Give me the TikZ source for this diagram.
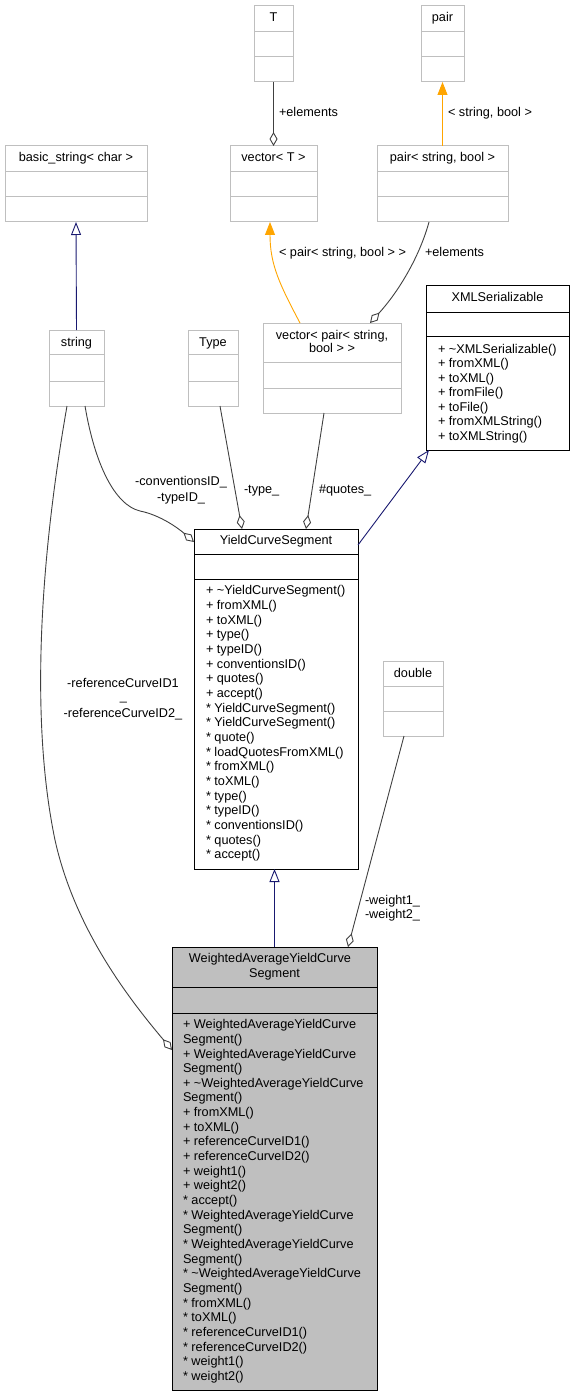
\documentclass[tikz,border=0pt]{standalone}
\usepackage{fontspec}
\setmainfont{Liberation Sans}
\usetikzlibrary{arrows.meta}
\definecolor{boxgray}{HTML}{BFBFBF}
\definecolor{edgegray}{HTML}{404040}
\definecolor{navyedge}{HTML}{191970}
\definecolor{orangeedge}{HTML}{FFA500}
\definecolor{fillgray}{HTML}{BFBFBF}
\begin{document}
\begin{tikzpicture}[x=1pt,y=-1pt,
  every node/.style={font=\fontsize{12.7}{14.67}\selectfont, inner sep=0pt, outer sep=0pt},
  lightbox/.style={draw=boxgray, line width=1pt, fill=white, anchor=north west},
  darkbox/.style={draw=black, line width=1pt, fill=white, anchor=north west},
  graybox/.style={draw=black, line width=1pt, fill=fillgray, anchor=north west},
  lightdiv/.style={draw=boxgray, line width=1pt},
  darkdiv/.style={draw=black, line width=1pt},
  agg/.style={draw=edgegray, line width=0.9pt, -{Diamond[length=14pt, width=8pt, fill=white]}},
  inh/.style={draw=navyedge, line width=0.9pt, -{Triangle[length=13pt, width=10pt, fill=white]}},
  tmpl/.style={draw=orangeedge, line width=0.9pt, -{Triangle[length=13pt, width=10pt]}},
  lbl/.style={anchor=base west},
  ttl/.style={anchor=base}
]
\useasboundingbox (0,0) rectangle (571,1396);

% ---- class boxes ----
\node[lightbox, minimum width=39pt, minimum height=76pt] (T) at (254,6) {};
\draw[lightdiv] (254,32) -- (293,32) (254,57) -- (293,57);
\node[ttl] (Tt) at (273.5,21.4) {T};

\node[lightbox, minimum width=43pt, minimum height=76pt] (pair) at (421,6) {};
\draw[lightdiv] (421,32) -- (464,32) (421,57) -- (464,57);
\node[ttl] (pairt) at (442.5,21.4) {pair};

\node[lightbox, minimum width=142pt, minimum height=76pt] (bstr) at (5,146) {};
\draw[lightdiv] (5,172) -- (147,172) (5,197) -- (147,197);
\node[ttl] (bstrt) at (76,161.5) {basic\_string< char >};

\node[lightbox, minimum width=87pt, minimum height=76pt] (vecT) at (230,146) {};
\draw[lightdiv] (230,172) -- (317,172) (230,197) -- (317,197);
\node[ttl] (vecTt) at (273.5,161.5) {vector< T >};

\node[lightbox, minimum width=131pt, minimum height=76pt] (pairSB) at (377,146) {};
\draw[lightdiv] (377,172) -- (508,172) (377,197) -- (508,197);
\node[ttl] (pairSBt) at (442.5,161.5) {pair< string, bool >};

\node[darkbox, minimum width=143pt, minimum height=164pt] (XML) at (426,286) {};
\draw[darkdiv] (426,312) -- (569,312) (426,336) -- (569,336);
\node[ttl] (XMLt) at (497.5,301.4) {XMLSerializable};
\foreach \m [count=\i from 0] in {+ \textasciitilde XMLSerializable(),+ fromXML(),+ toXML(),+ fromFile(),+ toFile(),+ fromXMLString(),+ toXMLString()}
  \node[lbl] (xmlm\i) at (438,{353.4+\i*14.5}) {\m};

\node[lightbox, minimum width=55pt, minimum height=76pt] (string) at (49,330) {};
\draw[lightdiv] (49,354) -- (104,354) (49,381) -- (104,381);
\node[ttl] (stringt) at (76.5,346.4) {string};

\node[lightbox, minimum width=50pt, minimum height=76pt] (Type) at (188,330) {};
\draw[lightdiv] (188,354) -- (238,354) (188,381) -- (238,381);
\node[ttl] (Typet) at (213,346.4) {Type};

\node[lightbox, minimum width=138pt, minimum height=90pt] (vecP) at (263,323) {};
\draw[lightdiv] (263,362) -- (401,362) (263,388) -- (401,388);
\node[ttl] (vecPt1) at (332,339.4) {vector< pair< string,};
\node[ttl] (vecPt2) at (332,352.7) {bool > >};

\node[darkbox, minimum width=164pt, minimum height=340pt] (YCS) at (194,529) {};
\draw[darkdiv] (194,554) -- (358,554) (194,579) -- (358,579);
\node[ttl] (YCSt) at (276,544.4) {YieldCurveSegment};
\foreach \m [count=\i from 0] in {+ \textasciitilde YieldCurveSegment(),+ fromXML(),+ toXML(),+ type(),+ typeID(),+ conventionsID(),+ quotes(),+ accept(),* YieldCurveSegment(),* YieldCurveSegment(),* quote(),* loadQuotesFromXML(),* fromXML(),* toXML(),* type(),* typeID(),* conventionsID(),* quotes(),* accept()}
  \node[lbl] (ycsm\i) at (206,{594.7+\i*14.67}) {\m};

\node[lightbox, minimum width=60pt, minimum height=75pt] (double) at (383,661) {};
\draw[lightdiv] (383,686) -- (443,686) (383,711) -- (443,711);
\node[ttl] (doublet) at (413,677.4) {double};

\node[graybox, minimum width=205pt, minimum height=443pt] (WAYCS) at (172,947) {};
\draw[darkdiv] (172,987) -- (377,987) (172,1013) -- (377,1013);
\node[ttl] (WAYCSt1) at (270,962.4) {WeightedAverageYieldCurve};
\node[ttl] (WAYCSt2) at (274.5,977.7) {Segment};
\foreach \m [count=\i from 0] in {+ WeightedAverageYieldCurve,Segment(),+ WeightedAverageYieldCurve,Segment(),+ \textasciitilde WeightedAverageYieldCurve,Segment(),+ fromXML(),+ toXML(),+ referenceCurveID1(),+ referenceCurveID2(),+ weight1(),+ weight2(),* accept(),* WeightedAverageYieldCurve,Segment(),* WeightedAverageYieldCurve,Segment(),* \textasciitilde WeightedAverageYieldCurve,Segment(),* fromXML(),* toXML(),* referenceCurveID1(),* referenceCurveID2(),* weight1(),* weight2()}
  \node[lbl] (waycsm\i) at (183,{1028.7+\i*14.65}) {\m};

% ---- connectors ----
\draw[agg] (T.south) -- (vecT.north);
\node[lbl] (e1) at (279,117) {+elements};

\draw[tmpl] (pairSB.north) -- (pair.south);
\node[lbl] (e2) at (448,117) {< string, bool >};

\draw[inh] (string.north) -- (bstr.south);

\draw[tmpl] ([xshift=37pt]vecP.north west) .. controls (280,285) and (270,265) .. ([xshift=40pt]vecT.south west);
\node[lbl] (e4) at (279,257) {< pair< string, bool > >};

\draw[agg] ([xshift=52pt]pairSB.south west) .. controls (420,255) and (400,290) .. ([xshift=107pt]vecP.north west);
\node[lbl] (e5) at (425,257) {+elements};

\draw[inh] ([yshift=-16pt]YCS.north east) -- ([xshift=3pt]XML.south west);

\draw[agg] ([xshift=36pt]string.south west) .. controls (95,465) and (115,505) .. (140,511) .. controls (160,515) and (178,528) .. ([yshift=-13pt]YCS.north west);
\node[ttl] (e7a) at (181,485.1) {-conventionsID\_};
\node[ttl] (e7b) at (181,501.1) {-typeID\_};

\draw[agg] ([xshift=32pt]Type.south west) -- ([xshift=48pt]YCS.north west);
\node[lbl] (e8) at (244,493.4) {-type\_};

\draw[agg] ([xshift=61pt]vecP.south west) -- ([xshift=112pt]YCS.north west);
\node[lbl] (e9) at (319,493.4) {\#quotes\_};

\draw[inh] (WAYCS.north) -- (WAYCS.north |- YCS.south);

\draw[agg] ([xshift=21pt]double.south west) -- ([xshift=176pt]WAYCS.north west);
\node[lbl] (e11a) at (365,904.4) {-weight1\_};
\node[lbl] (e11b) at (365,918.7) {-weight2\_};

\draw[agg] ([xshift=18pt]string.south west) .. controls (40,560) and (30,720) .. (55,840) .. controls (75,930) and (130,1000) .. ([yshift=-103pt]WAYCS.north west);
\node[ttl] (e12a) at (123,687.1) {-referenceCurveID1};
\node[ttl] (e12b) at (123.5,700.5) {\_};
\node[ttl] (e12c) at (123,717.1) {-referenceCurveID2\_};
\end{tikzpicture}
\end{document}
